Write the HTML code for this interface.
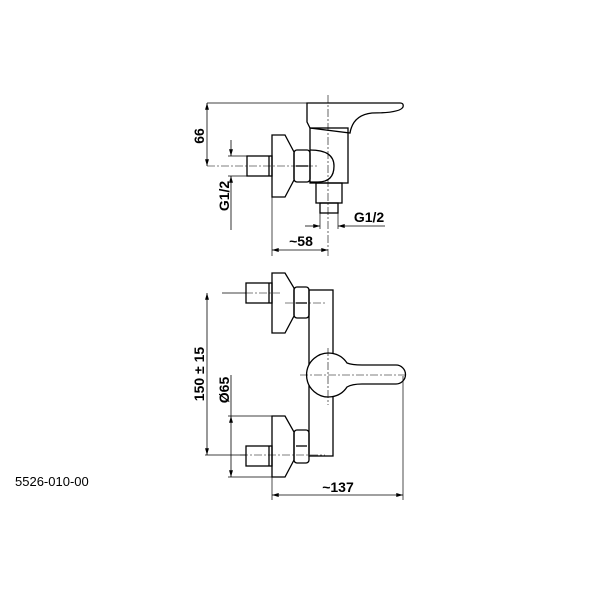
<!DOCTYPE html>
<html><head><style>body{margin:0;background:#fff}svg{display:block}</style></head><body>
<svg width="600" height="600" viewBox="0 0 600 600" xmlns="http://www.w3.org/2000/svg" font-family="Liberation Sans, sans-serif">
<defs>
<marker id="a" viewBox="0 0 12 10" refX="12" refY="5" markerWidth="9" markerHeight="7" orient="auto-start-reverse"><path d="M0,1.5 L12,5 L0,8.5 z" fill="#000"/></marker>
</defs>
<g fill="none" stroke="#000" stroke-width="1.3">
<!-- TOP VIEW -->
<path d="M307,103 H400 Q404,103 403,107 Q400,113 372,113 Q353,115 350,133 L310,128 L307,122 Z"/>
<rect x="310" y="128" width="38" height="55"/>
<path d="M310,150 Q334,150 334,166 Q334,182 318,182 H310"/>
<rect x="294" y="150" width="16" height="32" rx="3"/>
<line x1="296" y1="166" x2="308" y2="166"/>
<path d="M272,135 H285 L294,152 V180 L285,197 H272 Z"/>
<rect x="247" y="156" width="25" height="20"/>
<line x1="269" y1="156" x2="269" y2="176"/>
<rect x="316" y="183" width="26" height="20"/>
<rect x="320" y="203" width="18" height="10"/>
<!-- BOTTOM VIEW -->
<rect x="246" y="283" width="26" height="20"/>
<line x1="269" y1="283" x2="269" y2="303"/>
<path d="M272,273 H285 L294,288 V316 L285,333 H272 Z"/>
<rect x="294" y="287" width="15" height="31" rx="3"/>
<line x1="296" y1="303" x2="307" y2="303"/>
<rect x="309" y="290" width="24" height="166"/>
<rect x="246" y="446" width="26" height="20"/>
<line x1="269" y1="446" x2="269" y2="466"/>
<path d="M272,416 H285 L294,432 V460 L285,477 H272 Z"/>
<rect x="294" y="430" width="15" height="33" rx="3"/>
<line x1="296" y1="446" x2="307" y2="446"/>
<path d="M347,363 A22,22 0 1 0 347,387 Q352,384 362,384 H396 A9.5,9.5 0 0 0 396,365 H362 Q352,365 347,363 Z" fill="#fff"/>
</g>
<g stroke="#000" stroke-width="0.7" fill="none">
<line x1="207" y1="103" x2="307" y2="103"/>
<line x1="222" y1="293" x2="246" y2="293"/>
<line x1="205" y1="455" x2="246" y2="455"/>
<line x1="228" y1="416" x2="272" y2="416"/>
<line x1="228" y1="477" x2="272" y2="477"/>
<line x1="228" y1="156" x2="247" y2="156"/>
<line x1="228" y1="176" x2="247" y2="176"/>
<line x1="272" y1="197" x2="272" y2="256"/>
<line x1="320" y1="213" x2="320" y2="229"/>
<line x1="338" y1="213" x2="338" y2="229"/>
<line x1="272" y1="477" x2="272" y2="500"/>
<line x1="403" y1="376" x2="403" y2="500"/>
</g>
<g stroke="#000" stroke-width="0.6" fill="none" stroke-dasharray="8,2,2,2">
<line x1="328" y1="95" x2="328" y2="256"/>
<line x1="207" y1="166" x2="318" y2="166"/>
<line x1="245" y1="293" x2="280" y2="293"/>
<line x1="285" y1="303" x2="325" y2="303"/>
<line x1="300" y1="375" x2="405" y2="375"/>
<line x1="328" y1="348" x2="328" y2="405"/>
<line x1="240" y1="455" x2="325" y2="455"/>
</g>
<g stroke="#000" stroke-width="0.8" fill="none">
<line x1="207" y1="103" x2="207" y2="166" marker-start="url(#a)" marker-end="url(#a)"/>
<line x1="231" y1="140" x2="231" y2="156" marker-end="url(#a)"/>
<line x1="231" y1="230" x2="231" y2="176" marker-end="url(#a)"/>
<line x1="305" y1="226" x2="320" y2="226" marker-end="url(#a)"/>
<line x1="385" y1="226" x2="338" y2="226" marker-end="url(#a)"/>
<line x1="272" y1="250" x2="328" y2="250" marker-start="url(#a)" marker-end="url(#a)"/>
<line x1="207" y1="293" x2="207" y2="455" marker-start="url(#a)" marker-end="url(#a)"/>
<line x1="231" y1="416" x2="231" y2="477" marker-start="url(#a)" marker-end="url(#a)"/>
<line x1="231" y1="375" x2="231" y2="416"/>
<line x1="272" y1="495" x2="403" y2="495" marker-start="url(#a)" marker-end="url(#a)"/>
</g>
<g font-weight="bold" font-size="14" fill="#000">
<text transform="translate(204,136) rotate(-90)" text-anchor="middle">66</text>
<text transform="translate(229,196) rotate(-90)" text-anchor="middle">G1/2</text>
<text x="369" y="222" text-anchor="middle">G1/2</text>
<text x="301" y="246" text-anchor="middle">~58</text>
<text transform="translate(204,374) rotate(-90)" text-anchor="middle">150 ± 15</text>
<text transform="translate(229,390) rotate(-90)" text-anchor="middle">Ø65</text>
<text x="338" y="492" text-anchor="middle">~137</text>
</g>
<text x="15" y="486" font-size="13" fill="#000">5526-010-00</text>
</svg>
</body></html>
